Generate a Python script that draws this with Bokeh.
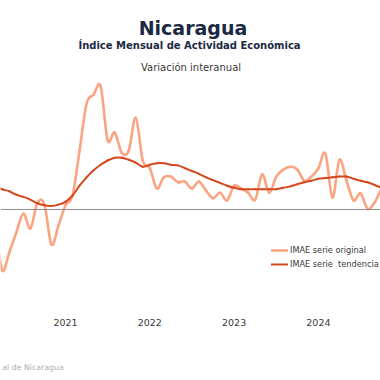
import numpy as np
import pandas as pd
from bokeh.plotting import figure
from bokeh.models import (Range1d, Span, Label, Legend, LegendItem, FixedTicker,
                          LinearAxis)
from bokeh.embed import file_html
from bokeh.resources import INLINE

# ---- data -------------------------------------------------------------
months = pd.period_range("2020-03", "2024-11", freq="M")
# IMAE, variación interanual (%), serie original
original = [-2.3, -8.7, -6.1, -3.3, -0.6, -2.7, 0.9, 0.7, -5.0, -2.3,
            0.6, 2.0, 8.4, 15.1, 16.4, 17.6, 9.9, 11.0, 8.1, 8.4,
            13.1, 7.0, 5.9, 3.0, 4.6, 4.7, 3.9, 4.0, 3.0, 4.0,
            2.7, 1.6, 2.4, 1.3, 3.4, 3.0, 2.4, 1.4, 5.0, 2.4,
            4.7, 5.7, 6.1, 5.7, 4.1, 4.7, 5.9, 8.0, 1.7, 7.1,
            4.1, 1.3, 2.3, 0.1, 1.0, 3.0, 4.1]
# IMAE, variación interanual (%), serie tendencia-ciclo
trend = [3.3, 2.9, 2.6, 2.1, 1.8, 1.4, 0.9, 0.6, 0.5, 0.7,
         1.1, 2.0, 3.4, 4.6, 5.6, 6.4, 7.0, 7.4, 7.4, 7.1,
         6.7, 6.1, 6.4, 6.6, 6.6, 6.4, 6.3, 5.9, 5.5, 5.1,
         4.6, 4.2, 3.8, 3.4, 3.1, 2.9, 2.9, 2.9, 2.9, 2.9,
         2.9, 3.1, 3.3, 3.6, 3.9, 4.1, 4.4, 4.5, 4.6, 4.7,
         4.7, 4.4, 4.1, 3.9, 3.5, 3.1, 2.9]
tick_years = ["2021", "2022", "2023", "2024"]
source_note = "al de Nicaragua"   # visible part of the source line

# month index relative to January 2021
base = pd.Period("2021-01", freq="M")
mx = np.array([(m - base).n for m in months], dtype=float)
tick_pos = [(pd.Period(y + "-01", freq="M") - base).n for y in tick_years]


def smooth_segments(x, y):
    """Catmull-Rom control points so each bezier passes through the data."""
    x = np.asarray(x, float)
    y = np.asarray(y, float)
    n = len(x)
    xp = np.concatenate([[2 * x[0] - x[1]], x, [2 * x[-1] - x[-2]]])
    yp = np.concatenate([[2 * y[0] - y[1]], y, [2 * y[-1] - y[-2]]])
    return dict(
        x0=x[:-1], y0=y[:-1], x1=x[1:], y1=y[1:],
        cx0=xp[1:n] + (xp[2:n + 1] - xp[0:n - 1]) / 6,
        cy0=yp[1:n] + (yp[2:n + 1] - yp[0:n - 1]) / 6,
        cx1=xp[2:n + 1] - (xp[3:n + 2] - xp[1:n]) / 6,
        cy1=yp[2:n + 1] - (yp[3:n + 2] - yp[1:n]) / 6,
    )


W, H = 380, 380
FRAME_H = 303

p = figure(width=W, height=H, output_backend="svg", toolbar_location=None,
           x_range=Range1d((0 - 65) / 7.025, (380 - 65) / 7.025),
           y_range=Range1d(-13.4286, 29.857),
           y_axis_location=None,
           min_border_left=0, min_border_right=0, min_border_top=0,
           min_border_bottom=H - FRAME_H)
p.outline_line_color = None
p.xgrid.visible = False
p.ygrid.visible = False
p.background_fill_color = "white"
p.border_fill_color = "white"

FONT = "DejaVu Sans"

ax = p.xaxis[0]
ax.ticker = FixedTicker(ticks=tick_pos)
ax.major_label_overrides = {t: lab for t, lab in zip(tick_pos, tick_years)}
ax.axis_line_color = None
ax.major_tick_line_color = None
ax.minor_tick_line_color = None
ax.major_label_standoff = 9
ax.major_label_text_font = FONT
ax.major_label_text_font_size = "9.5px"
ax.major_label_text_color = "#3a3a3a"

# source note, shown as the single label of a second, bare axis
note_pos = -4.625
note_ax = LinearAxis(ticker=FixedTicker(ticks=[note_pos]),
                     major_label_overrides={note_pos: source_note},
                     axis_line_color=None, major_tick_line_color=None,
                     minor_tick_line_color=None, major_label_standoff=28,
                     major_label_text_font=FONT,
                     major_label_text_font_size="7.8px",
                     major_label_text_color="#acacac")
p.add_layout(note_ax, "below")

p.add_layout(Span(location=0, dimension="width", line_color="#8c8c8c", line_width=1))

r1 = p.bezier(**smooth_segments(mx, original), line_color="#FBA482",
              line_width=2.6, line_cap="round")
r2 = p.bezier(**smooth_segments(mx, trend), line_color="#D5491E",
              line_width=2.0, line_cap="round")

legend = Legend(items=[LegendItem(label="IMAE serie original", renderers=[r1]),
                       LegendItem(label="IMAE serie  tendencia", renderers=[r2])],
                location=(271, 32), glyph_width=17, glyph_height=14,
                label_height=14, label_standoff=2, spacing=0, padding=0,
                margin=0, border_line_alpha=0, background_fill_alpha=0,
                label_text_font=FONT, label_text_font_size="8.2px",
                label_text_color="#3a3a3a")
p.add_layout(legend)

NAVY = "#1B2942"
p.add_layout(Label(x=192.5, y=FRAME_H - 27, x_units="screen", y_units="screen",
                   text="Nicaragua", text_align="center", text_baseline="alphabetic",
                   text_font=FONT, text_font_style="bold", text_font_size="19px",
                   text_color=NAVY))
p.add_layout(Label(x=189, y=FRAME_H - 45, x_units="screen", y_units="screen",
                   text="Índice Mensual de Actividad Económica", text_align="center",
                   text_baseline="alphabetic", text_font=FONT, text_font_style="bold",
                   text_font_size="10px", text_color=NAVY))
p.add_layout(Label(x=190.5, y=FRAME_H - 66.7, x_units="screen", y_units="screen",
                   text="Variación interanual", text_align="center",
                   text_baseline="alphabetic", text_font=FONT,
                   text_font_size="10px", text_color="#3a3a3a"))

open("out.html", "w").write(file_html(p, INLINE))
